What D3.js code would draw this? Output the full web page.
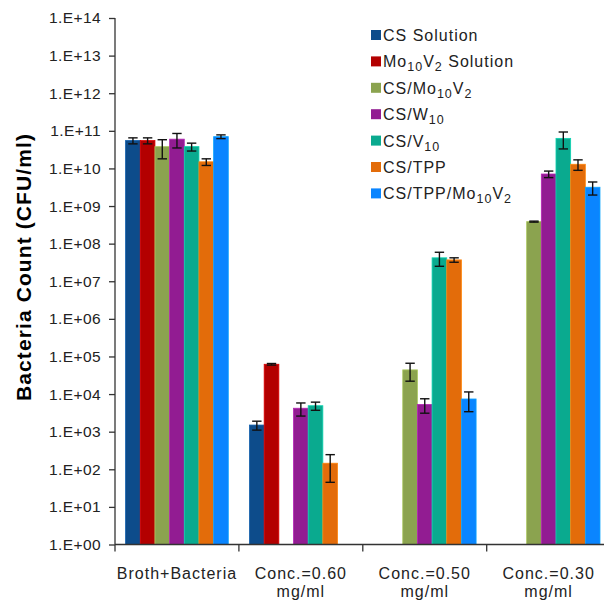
<!DOCTYPE html>
<html>
<head>
<meta charset="utf-8">
<script src="https://cdn.jsdelivr.net/npm/d3@7"></script>
<style>
  body { margin: 0; background: #fff; }
  svg { display: block; font-family: "Liberation Sans", Arial, sans-serif; }
</style>
</head>
<body>
<div id="chart"></div>
<script>
// categories on the x axis, two lines each
var categories = ["Broth+Bacteria", "Conc.=0.60|mg/ml", "Conc.=0.50|mg/ml", "Conc.=0.30|mg/ml"];

// series names, with subscript parts marked by _{...}
var seriesNames = ["CS Solution", "Mo_{10}V_{2} Solution", "CS/Mo_{10}V_{2}", "CS/W_{10}", "CS/V_{10}", "CS/TPP", "CS/TPP/Mo_{10}V_{2}"];
var seriesColors = ["#0d4c8b", "#b30000", "#8ba34f", "#921c92", "#0aaa8f", "#e36c0a", "#0a85ff"];

// values (CFU/ml), null = no bar
var csSolution   = [5.5e10, 1.5e3,  null,   null];
var mo10v2Sol    = [5.5e10, 6.2e4,  null,   null];
var csMo10v2     = [3.8e10, null,   4.4e4,  3.85e8];
var csW10        = [6.0e10, 4.2e3,  5.3e3,  7.1e9];
var csV10        = [3.8e10, 4.9e3,  4.2e7,  6.3e10];
var csTpp        = [1.5e10, 1.45e2, 3.7e7,  1.29e10];
var csTppMo10v2  = [7.0e10, null,   7.4e3,  3.16e9];

// error bar half-widths
var csSolutionErr  = [1.0e10, 0.4e3,  null,   null];
var mo10v2SolErr   = [1.0e10, 0.3e4,  null,   null];
var csMo10v2Err    = [2.0e10, null,   2.2e4,  0.12e8];
var csW10Err       = [2.5e10, 1.6e3,  2.2e3,  1.4e9];
var csV10Err       = [0.9e10, 1.2e3,  1.7e7,  3.0e10];
var csTppErr       = [0.3e10, 1.0e2,  0.5e7,  0.4e10];
var csTppMo10v2Err = [0.8e10, null,   4.0e3,  1.2e9];

var yTicks = [1e0, 1e1, 1e2, 1e3, 1e4, 1e5, 1e6, 1e7, 1e8, 1e9, 1e10, 1e11, 1e12, 1e13, 1e14];

var allValues = [csSolution, mo10v2Sol, csMo10v2, csW10, csV10, csTpp, csTppMo10v2];
var allErrs = [csSolutionErr, mo10v2SolErr, csMo10v2Err, csW10Err, csV10Err, csTppErr, csTppMo10v2Err];

var W = 604, H = 604;
var plotLeft = 115, plotTop = 18, plotBottom = 544.5;
var catStep = 123.9;

var svg = d3.select("#chart").append("svg")
  .attr("width", W)
  .attr("height", H);

var y = d3.scaleLog()
  .domain([1e0, 1e14])
  .range([plotBottom, plotTop]);

var x0 = d3.scaleBand()
  .domain(categories)
  .range([plotLeft, plotLeft + catStep * categories.length])
  .padding(0);

var x1 = d3.scaleBand()
  .domain(seriesNames)
  .range([0, x0.bandwidth()])
  .paddingInner(0)
  .paddingOuter(0.723);

// flatten into bar records
var bars = [];
seriesNames.forEach(function(s, si) {
  categories.forEach(function(c, ci) {
    var v = allValues[si][ci];
    if (v == null) return;
    bars.push({ series: s, si: si, cat: c, value: v, err: allErrs[si][ci] });
  });
});

var barG = svg.append("g");
barG.selectAll("rect")
  .data(bars)
  .enter().append("rect")
  .attr("x", function(d) { return x0(d.cat) + x1(d.series); })
  .attr("y", function(d) { return y(d.value); })
  .attr("width", x1.bandwidth())
  .attr("height", function(d) { return plotBottom - y(d.value); })
  .attr("fill", function(d) { return seriesColors[d.si]; })
  .attr("stroke", function(d) { return d3.color(seriesColors[d.si]).brighter(0.6); })
  .attr("stroke-width", 0.8);

// error bars
var errG = svg.append("g")
  .attr("stroke", "#111")
  .attr("stroke-width", 1.4)
  .attr("fill", "none");

bars.forEach(function(d) {
  if (d.err == null) return;
  var cx = x0(d.cat) + x1(d.series) + x1.bandwidth() / 2;
  var hi = y(d.value + d.err);
  var lo = y(Math.max(d.value - d.err, 1));
  errG.append("line").attr("x1", cx).attr("x2", cx).attr("y1", hi).attr("y2", lo);
  errG.append("line").attr("x1", cx - 4.7).attr("x2", cx + 4.7).attr("y1", hi).attr("y2", hi);
  errG.append("line").attr("x1", cx - 4.7).attr("x2", cx + 4.7).attr("y1", lo).attr("y2", lo);
});

// y axis
var yAxis = d3.axisLeft(y)
  .tickValues(yTicks)
  .tickSize(6)
  .tickPadding(8)
  .tickFormat(function(d) {
    var e = Math.round(Math.log10(d));
    return "1.E+" + (e < 10 ? "0" + e : e);
  });

var yg = svg.append("g")
  .attr("transform", "translate(" + plotLeft + ",0)")
  .call(yAxis);
yg.select(".domain").attr("d", "M0," + plotTop + "V" + plotBottom).attr("stroke", "#333").attr("stroke-width", 1.3);
yg.selectAll(".tick line").attr("stroke", "#333").attr("stroke-width", 1.3);
yg.selectAll(".tick text")
  .attr("font-size", 15.5)
  .attr("letter-spacing", 0.4)
  .attr("fill", "#222")
  .attr("font-family", "Liberation Sans, Arial, sans-serif");

// x axis
svg.append("line")
  .attr("x1", plotLeft).attr("x2", W)
  .attr("y1", plotBottom).attr("y2", plotBottom)
  .attr("stroke", "#333").attr("stroke-width", 1.3);

svg.append("g").selectAll("line")
  .data(categories)
  .enter().append("line")
  .attr("x1", function(d) { return x0(d); })
  .attr("x2", function(d) { return x0(d); })
  .attr("y1", plotBottom)
  .attr("y2", plotBottom + 7)
  .attr("stroke", "#333").attr("stroke-width", 1.3);

var xl = svg.append("g").selectAll("text")
  .data(categories)
  .enter().append("text")
  .attr("x", function(d) { return x0(d) + x0.bandwidth() / 2; })
  .attr("y", 579)
  .attr("text-anchor", "middle")
  .attr("font-size", 16)
  .attr("letter-spacing", 1)
  .attr("fill", "#222");

xl.each(function(d) {
  var parts = d.split("|");
  var t = d3.select(this);
  var cx = x0(d) + x0.bandwidth() / 2;
  parts.forEach(function(p, i) {
    t.append("tspan").attr("x", cx).attr("dy", i == 0 ? 0 : 18).text(p);
  });
});

// y axis title
svg.append("text")
  .attr("transform", "translate(23,267) rotate(-90)")
  .attr("text-anchor", "middle")
  .attr("dominant-baseline", "central")
  .attr("font-size", 21)
  .attr("font-weight", "bold")
  .attr("letter-spacing", 1.1)
  .attr("fill", "#000")
  .text("Bacteria Count (CFU/ml)");

// legend labels: split into normal / subscript pieces
function addLabel(sel, label) {
  var pieces = [], re = /_\{([^}]*)\}/g, last = 0, m;
  while ((m = re.exec(label)) !== null) {
    if (m.index > last) pieces.push({ text: label.slice(last, m.index), sub: false });
    pieces.push({ text: m[1], sub: true });
    last = re.lastIndex;
  }
  if (last < label.length) pieces.push({ text: label.slice(last), sub: false });

  var shifted = false;
  pieces.forEach(function(p) {
    var ts = sel.append("tspan").text(p.text);
    if (p.sub) {
      ts.attr("font-size", 12.5).attr("dy", shifted ? 0 : 4);
      shifted = true;
    } else {
      ts.attr("dy", shifted ? -4 : 0);
      shifted = false;
    }
  });
}

var legend = svg.append("g").attr("transform", "translate(371,35)");
seriesNames.forEach(function(s, i) {
  var row = legend.append("g").attr("transform", "translate(0," + (i * 26.4) + ")");
  row.append("rect")
    .attr("x", 0).attr("y", -5)
    .attr("width", 10).attr("height", 10)
    .attr("fill", seriesColors[i]);
  var t = row.append("text")
    .attr("x", 12)
    .attr("y", 6)
    .attr("font-size", 16)
    .attr("letter-spacing", 1)
    .attr("fill", "#222");
  addLabel(t, s);
});
</script>
</body>
</html>
